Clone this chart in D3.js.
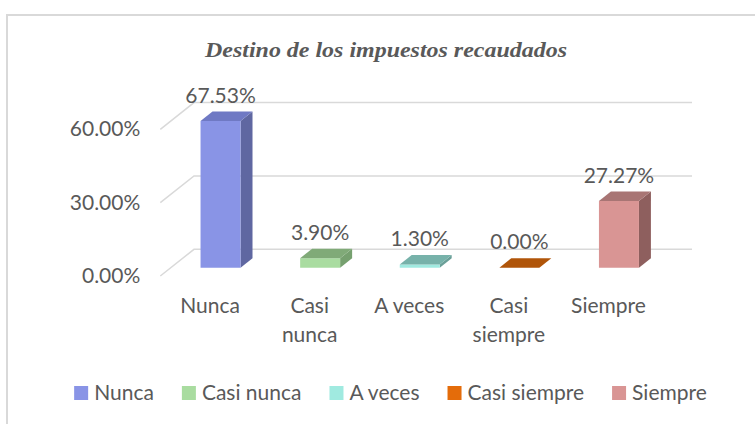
<!DOCTYPE html>
<html>
<head>
<meta charset="utf-8">
<script src="https://cdn.jsdelivr.net/npm/d3@7"></script>
<style>
  body { margin: 0; background: #fff; }
  text { font-family: Lato, "Open Sans", sans-serif; fill: #595959; }
</style>
</head>
<body>
<div id="chart"></div>
<script>
// Chart data
var categories = ["Nunca", "Casi nunca", "A veces", "Casi siempre", "Siempre"];
var values = [0.6753, 0.039, 0.013, 0.0, 0.2727];
var yTicks = [0, 0.3, 0.6];
var frontColors = ["#8994e6", "#a9dca0", "#a0eae0", "#e46c0a", "#d99594"];
var topColors = ["#6f79c4", "#80aa78", "#77b2aa", "#b05509", "#a87574"];
var sideColors = ["#5f67a1", "#76a06f", "#6a9f98", "#9a4a08", "#8e5f5e"];

var width = 755, height = 424;
var fontSize = "21px";

// Oblique 3D layout: u = position on back wall, v = value height, w = depth (0 back, 1 front)
var baseY = 249.3;
var depth = { dx: -33.7, dy: 26.7 };
var barFront = 0.69, barBack = 0.335, barHalf = 20;

function project(u, v, w) {
	return [u + w * depth.dx, baseY - v + w * depth.dy];
}

var svg = d3.select("#chart").append("svg")
	.attr("width", width)
	.attr("height", height);

// Frame
svg.append("rect")
	.attr("x", 7).attr("y", 15)
	.attr("width", 800).attr("height", 500)
	.attr("fill", "none")
	.attr("stroke", "#d9d9d9")
	.attr("stroke-width", 2);

// Title
svg.append("text")
	.attr("x", 386).attr("y", 57)
	.attr("text-anchor", "middle")
	.attr("textLength", 362)
	.attr("lengthAdjust", "spacingAndGlyphs")
	.style("font-family", "'Liberation Serif', 'DejaVu Serif', serif")
	.style("font-weight", "bold")
	.style("font-style", "italic")
	.style("font-size", "20px")
	.text("Destino de los impuestos recaudados");

// Scales
var x = d3.scaleBand().domain(categories).range([194, 692]);
var y = d3.scaleLinear().domain([0, 0.6]).range([0, 146.7]).clamp(true);
var fmt = d3.format(".2%");

// Gridlines (back wall and side wall)
var grid = svg.append("g").attr("class", "grid")
	.attr("stroke", "#d9d9d9").attr("stroke-width", 1.5).attr("fill", "none");
yTicks.forEach(function(t) {
	var p0 = project(x.range()[0], y(t), 0),
		p1 = project(x.range()[1], y(t), 0),
		p2 = project(x.range()[0], y(t), 1);
	grid.append("path").attr("d", "M" + p2 + "L" + p0 + "L" + p1);
});

// Y axis labels
svg.append("g").selectAll("text")
	.data(yTicks)
	.enter().append("text")
		.attr("x", function(d) { return project(x.range()[0], y(d), 1)[0] - 20; })
		.attr("y", function(d) { return project(x.range()[0], y(d), 1)[1] + 7; })
		.attr("text-anchor", "end")
		.style("font-size", fontSize)
		.text(function(d) { return fmt(d); });

// Bars
var bars = svg.append("g").selectAll("g")
	.data(categories)
	.enter().append("g");

function poly(pts) { return "M" + pts.join("L") + "Z"; }

bars.each(function(c, i) {
	var g = d3.select(this);
	var uc = x(c) + x.bandwidth() / 2, h = y(values[i]);
	var l = uc - barHalf, r = uc + barHalf;
	// side
	g.append("path")
		.attr("d", poly([project(r, 0, barFront), project(r, 0, barBack), project(r, h, barBack), project(r, h, barFront)]))
		.attr("fill", sideColors[i]);
	// front
	g.append("path")
		.attr("d", poly([project(l, 0, barFront), project(r, 0, barFront), project(r, h, barFront), project(l, h, barFront)]))
		.attr("fill", frontColors[i]);
	// top
	g.append("path")
		.attr("d", poly([project(l, h, barFront), project(r, h, barFront), project(r, h, barBack), project(l, h, barBack)]))
		.attr("fill", topColors[i]);
	// value label
	var lp = project(uc, h, barFront);
	var tp = project(uc, h, barBack);
	g.append("text")
		.attr("x", lp[0])
		.attr("y", tp[1] - 9)
		.attr("text-anchor", "middle")
		.style("font-size", fontSize)
		.text(fmt(values[i]));
});

// Category labels (wrapped when wider than the slot)
svg.append("g").selectAll("text")
	.data(categories)
	.enter().append("text")
		.attr("x", function(d) { return project(x(d) + x.bandwidth() / 2, 0, 1)[0]; })
		.attr("y", 313)
		.attr("text-anchor", "middle")
		.style("font-size", fontSize)
		.each(function(d) {
			var t = d3.select(this);
			t.text(d);
			if (this.getComputedTextLength() > 90) {
				t.text(null);
				d.split(" ").forEach(function(w, k) {
					t.append("tspan")
						.attr("x", t.attr("x"))
						.attr("dy", k === 0 ? 0 : 29)
						.text(w);
				});
			}
		});

// Legend
var legend = svg.append("g");
var lx = 0, gap = 28;
categories.forEach(function(c, i) {
	var item = legend.append("g").attr("transform", "translate(" + lx + ",0)");
	item.append("rect")
		.attr("x", 0).attr("y", 386)
		.attr("width", 14).attr("height", 14)
		.attr("fill", frontColors[i]);
	var t = item.append("text")
		.attr("x", 20).attr("y", 400)
		.style("font-size", fontSize)
		.text(c);
	lx += 20 + t.node().getComputedTextLength() + gap;
});
var lw = lx - gap;
legend.attr("transform", "translate(" + (390.5 - lw / 2) + ",0)");
</script>
</body>
</html>
